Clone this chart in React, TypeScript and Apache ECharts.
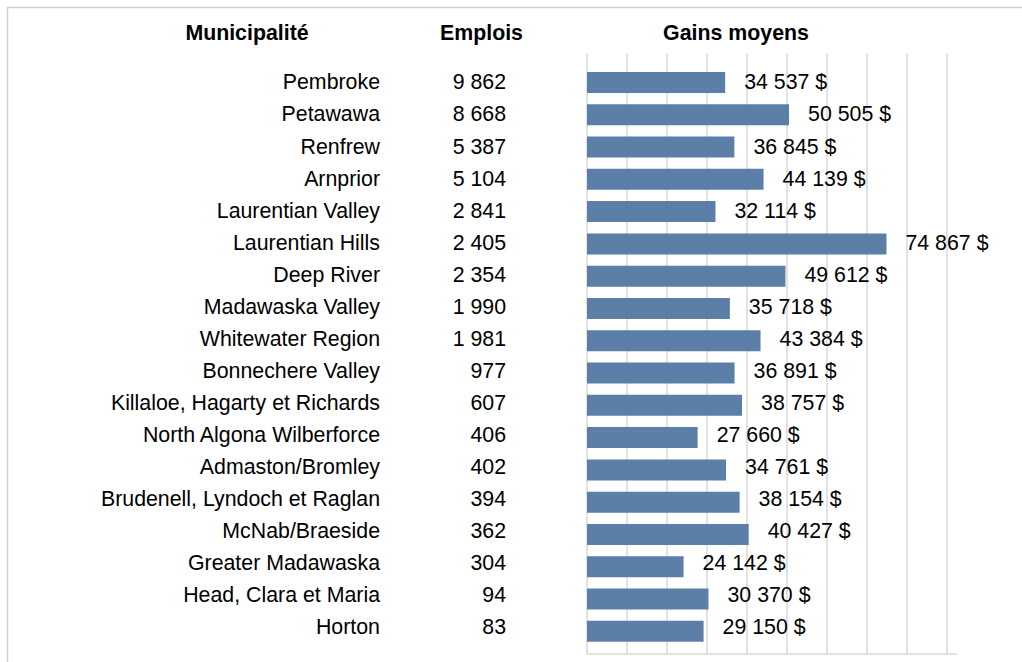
import React, { useEffect, useRef } from "react";
import * as echarts from "echarts";

const municipalites = [
  "Pembroke",
  "Petawawa",
  "Renfrew",
  "Arnprior",
  "Laurentian Valley",
  "Laurentian Hills",
  "Deep River",
  "Madawaska Valley",
  "Whitewater Region",
  "Bonnechere Valley",
  "Killaloe, Hagarty et Richards",
  "North Algona Wilberforce",
  "Admaston/Bromley",
  "Brudenell, Lyndoch et Raglan",
  "McNab/Braeside",
  "Greater Madawaska",
  "Head, Clara et Maria",
  "Horton",
];

const emplois = [9862, 8668, 5387, 5104, 2841, 2405, 2354, 1990, 1981, 977, 607, 406, 402, 394, 362, 304, 94, 83];

const gainsMoyens = [
  34537, 50505, 36845, 44139, 32114, 74867, 49612, 35718, 43384, 36891, 38757, 27660, 34761, 38154, 40427, 24142,
  30370, 29150,
];

const headers = ["Municipalité", "Emplois", "Gains moyens"];

const fmt = (v: number) => String(v).replace(/\B(?=(\d{3})+(?!\d))/g, " ");

const FONT = '"Liberation Sans", Arial, sans-serif';
const FS = 21.33;

export default function App() {
  const ref = useRef<HTMLDivElement>(null);

  useEffect(() => {
    if (!ref.current) return;
    const chart = echarts.init(ref.current, undefined, { renderer: "svg" });
    const gridColor = "#d9d9d9";
    const headerText = (i: number, x: number) => ({
      type: "text",
      x,
      y: 32.5,
      style: {
        text: headers[i],
        font: `bold ${FS}px ${FONT}`,
        fill: "#000",
        textAlign: "center",
        textVerticalAlign: "middle",
      },
    });
    chart.setOption({
      animation: false,
      backgroundColor: "#ffffff",
      textStyle: { fontFamily: FONT },
      grid: [
        { left: 587, width: 360, top: 66.3, height: 581.2, containLabel: false },
        { left: 587, width: 370, top: 53.5, height: 600.5, containLabel: false },
        { left: 587, width: 360, top: 66.4, height: 577.1, containLabel: false },
      ],
      xAxis: [
        { type: "value", gridIndex: 0, min: 0, max: 90000, interval: 10000, show: false },
        {
          type: "value",
          gridIndex: 1,
          position: "top",
          min: 0,
          max: 92500,
          interval: 10000,
          axisLine: { show: true, lineStyle: { color: gridColor, width: 1.5 } },
          axisTick: { show: false },
          axisLabel: { show: false },
          splitLine: { show: true, showMaxLine: false, lineStyle: { color: gridColor, width: 1.5 } },
        },
        { type: "value", gridIndex: 2, min: 0, max: 90000, interval: 10000, show: false },
      ],
      yAxis: [
        {
          type: "category",
          gridIndex: 0,
          inverse: true,
          data: municipalites,
          show: false,
        },
        {
          type: "value",
          gridIndex: 1,
          min: 0,
          max: 1,
          show: false,
        },
        {
          type: "category",
          gridIndex: 2,
          inverse: true,
          data: municipalites,
          position: "left",
          axisLine: { show: false },
          axisTick: { show: false },
          splitLine: { show: false },
          axisLabel: { margin: 207, fontSize: FS, color: "#000", fontFamily: FONT },
        },
        {
          type: "category",
          gridIndex: 2,
          inverse: true,
          data: emplois.map(fmt),
          position: "left",
          offset: 0,
          axisLine: { show: false },
          axisTick: { show: false },
          splitLine: { show: false },
          axisLabel: { margin: 81, fontSize: FS, color: "#000", fontFamily: FONT },
        },
      ],
      series: [
        {
          type: "bar",
          xAxisIndex: 0,
          yAxisIndex: 0,
          data: gainsMoyens,
          barWidth: 21,
          itemStyle: { color: "#5b7fa6" },
        },
        {
          type: "line",
          xAxisIndex: 1,
          yAxisIndex: 1,
          data: [],
          silent: true,
        },
        {
          type: "bar",
          xAxisIndex: 2,
          yAxisIndex: 2,
          data: gainsMoyens,
          barWidth: 21,
          silent: true,
          itemStyle: { color: "rgba(0,0,0,0)" },
          label: {
            show: true,
            position: "right",
            distance: 19,
            fontSize: FS,
            color: "#000",
            fontFamily: FONT,
            formatter: (p: any) => fmt(p.value) + " $",
          },
        },
      ],
      graphic: [
        {
          type: "rect",
          silent: true,
          shape: { x: 7.5, y: 7.5, width: 1200, height: 800 },
          style: { fill: "none", stroke: "#d0d0d0", lineWidth: 1.5 },
        },
        headerText(0, 247),
        headerText(1, 481.5),
        headerText(2, 736),
      ],
    });
    return () => chart.dispose();
  }, []);

  return (
    <div
      ref={ref}
      style={{ position: "fixed", left: 0, top: 0, width: 1022, height: 662, background: "#fff" }}
    />
  );
}
